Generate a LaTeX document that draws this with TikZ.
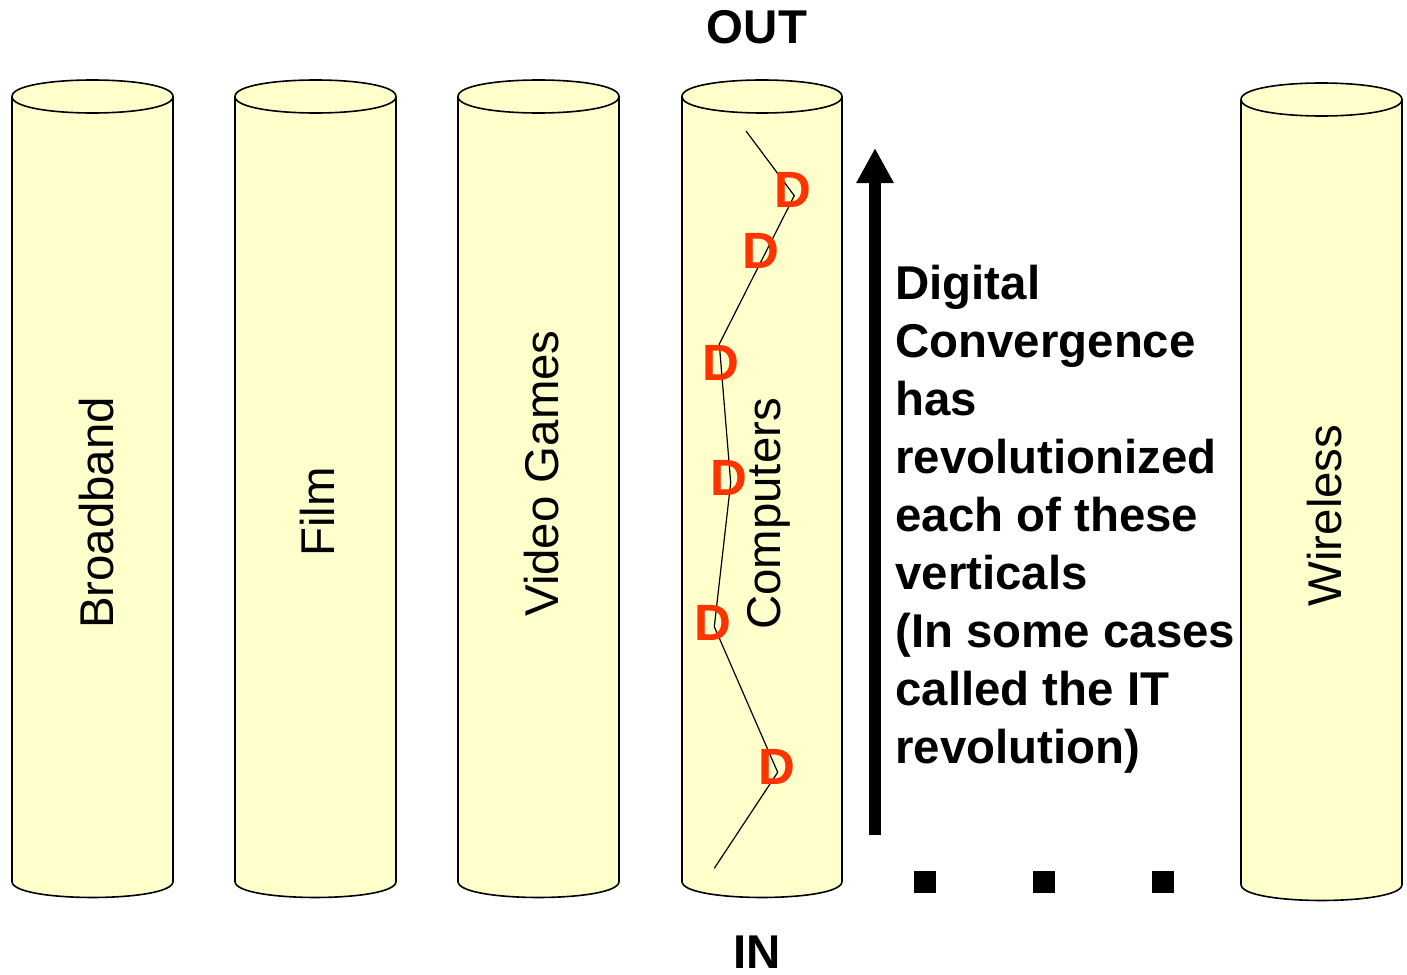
\documentclass[tikz,border=0pt]{standalone}
\usepackage{fontspec}
\setmainfont{Liberation Sans}
\usetikzlibrary{arrows.meta}
\definecolor{cylcol}{HTML}{FFFFCC}
\definecolor{dred}{HTML}{FF3300}
\newcommand\drawcyl[4]{%
  \fill[cylcol] (#1,#3) -- (#1,#4) .. controls (#1,#4+21.3) and (#2,#4+21.3) .. (#2,#4) -- (#2,#3) -- cycle;
  \draw[cylline] (#1,#3) -- (#1,#4) .. controls (#1,#4+21.3) and (#2,#4+21.3) .. (#2,#4) -- (#2,#3);
  \draw[cylline,fill=cylcol] (#1,#3) .. controls (#1,#3-22) and (#2,#3-22) .. (#2,#3) .. controls (#2,#3+22) and (#1,#3+22) .. (#1,#3) -- cycle;
}
\begin{document}
\begin{tikzpicture}[x=0.5pt,y=-0.5pt,
  cylline/.style={line width=0.8pt,black},
  vlabel/.style={rotate=90,anchor=base,inner sep=0pt,font=\fontsize{23.7pt}{28pt}\selectfont},
  dmark/.style={text=dred,inner sep=0pt,font=\fontsize{25.5pt}{30pt}\selectfont\bfseries},
  bigbold/.style={inner sep=0pt,font=\fontsize{23.7pt}{29pt}\selectfont\bfseries},
  zig/.style={line width=0.6pt,black},
  dotsq/.style={fill=black,draw=none,minimum size=11pt,inner sep=0pt}]
\useasboundingbox (0,0) rectangle (1407,974);
\fill[white] (0,0) rectangle (1407,974);
% cylinders
\drawcyl{12}{173}{96.5}{881.5}
\drawcyl{235}{396}{96.5}{881.5}
\drawcyl{458}{619}{96.5}{881.5}
\drawcyl{682}{842}{96.5}{881.5}
\drawcyl{1241}{1402}{99.5}{884.5}
% labels
\node[vlabel] (broadband) at (113,513) {Broadband};
\node[vlabel] (film) at (334,512) {Film};
\node[vlabel] (videogames) at (558,473.5) {Video Games};
\node[vlabel] (computers) at (780,514) {Computers};
\node[vlabel] (wireless) at (1341,515.5) {Wireless};
% zigzag
\coordinate (z0) at (746,131);
\coordinate (z1) at (794.3,195.7);
\coordinate (z2) at (719.3,344);
\coordinate (z3) at (730.7,482.7);
\coordinate (z4) at (714.3,626.7);
\coordinate (z5) at (777.7,772.3);
\coordinate (z6) at (714.3,868.3);
\draw[zig] (z0) -- (z1) -- (z2) -- (z3) -- (z4) -- (z5) -- (z6);
\node[dmark] (d1) at (792.5,190) {D};
\node[dmark] (d2) at (760.7,251) {D};
\node[dmark] (d3) at (721.3,363) {D};
\node[dmark] (d4) at (728.7,478.3) {D};
\node[dmark] (d5) at (713.3,622.5) {D};
\node[dmark] (d6) at (776.7,766.5) {D};
% arrow
\coordinate (abot) at (875,835);
\coordinate (atop) at (875,148);
\draw[line width=6pt,-{Triangle[length=17.5pt,width=17.5pt]}] (abot) -- (atop);
% text
\node[bigbold,anchor=north west,align=left] (desc) at (895,265)
  {Digital\\Convergence\\has\\revolutionized\\each of these\\verticals\\(In some cases\\called the IT\\revolution)};
\node[bigbold,anchor=base] (out) at (757,44) {OUT};
\node[bigbold,anchor=base] (in) at (757,968.5) {IN};
% dots
\node[dotsq] (dot1) at (925,882) {};
\node[dotsq] (dot2) at (1044,882) {};
\node[dotsq] (dot3) at (1163,882) {};
\end{tikzpicture}
\end{document}
